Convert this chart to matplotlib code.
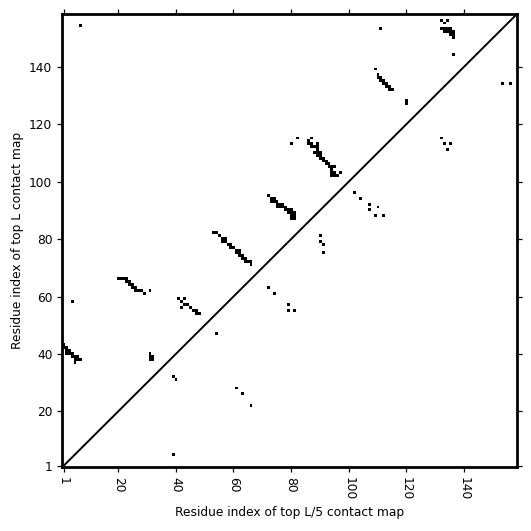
import numpy as np
import matplotlib
matplotlib.use("Agg")
import matplotlib.pyplot as plt

L = 158

# top L contacts (upper triangle): residue i (x), residue j (y)
top_l_x = [1, 1, 2, 2, 3, 2, 3, 4, 4, 5, 6, 5, 6, 7, 5,
           4, 7,
           20, 21, 22, 23, 23, 24, 24, 25, 25, 26, 26, 27, 28, 29,
           31, 31, 31, 32, 31, 32,
           41, 43, 42, 43, 44, 42, 45, 46, 47, 47, 48,
           53, 54, 55, 56, 56, 57, 57, 58, 59, 59, 60, 61, 61, 62, 62, 62,
           63, 63, 64, 64, 65, 66, 66,
           72, 73, 74, 73, 74, 75, 75, 76, 77, 76, 77, 78, 78, 79, 80, 79,
           80, 81, 80, 81, 81, 80, 75,
           80, 82,
           87, 86, 87, 86, 87, 88, 89, 89, 89, 88, 89, 90, 89, 90, 91, 90,
           91, 92, 92, 93, 93, 94, 95, 94, 94, 95, 94, 95, 96, 97,
           109, 110, 110, 111, 111, 112, 112, 113, 113, 114, 114, 115,
           111, 120, 120,
           132, 134, 133, 132, 133, 134, 135, 133, 134, 135, 136, 135, 136, 136,
           136]
top_l_y = [43, 42, 42, 41, 41, 40, 40, 40, 39, 39, 39, 38, 38, 38, 37,
           58, 154,
           66, 66, 66, 66, 65, 65, 64, 64, 63, 63, 62, 62, 62, 61,
           62, 40, 39, 39, 38, 38,
           59, 59, 58, 57, 57, 56, 56, 55, 55, 54, 54,
           82, 82, 81, 80, 79, 80, 79, 78, 78, 77, 77, 76, 75, 76, 75, 74,
           74, 73, 73, 72, 72, 72, 71,
           95, 94, 94, 93, 93, 93, 92, 92, 92, 91, 91, 91, 90, 90, 90, 89,
           89, 89, 88, 88, 87, 87, 91,
           113, 115,
           115, 114, 113, 113, 112, 112, 113, 112, 111, 110, 110, 110, 109, 109, 108, 108,
           107, 107, 106, 106, 105, 105, 105, 104, 103, 103, 102, 102, 102, 103,
           139, 137, 136, 136, 135, 135, 134, 134, 133, 133, 132, 132,
           153, 128, 127,
           156, 156, 155, 153, 153, 153, 153, 152, 152, 152, 152, 151, 151, 150,
           144]

# top L/5 contacts (lower triangle)
top_l5_x = [39, 39, 40, 54, 61, 63, 66, 72, 74, 79, 79, 81, 90, 90, 91, 91,
            102, 104, 107, 107, 110, 109, 112, 132, 133, 135, 134, 153, 156]
top_l5_y = [5, 32, 31, 47, 28, 26, 22, 63, 61, 57, 55, 55, 81, 79, 78, 75,
            96, 94, 92, 90, 91, 88, 88, 115, 113, 113, 111, 134, 134]

tick_labels = [1, 20, 40, 60, 80, 100, 120, 140]

plt.rcParams['font.size'] = 8.85

cmap_mat = np.zeros((L, L))
cmap_mat[np.array(top_l_y) - 1, np.array(top_l_x) - 1] = 1
cmap_mat[np.array(top_l5_y) - 1, np.array(top_l5_x) - 1] = 1

fig = plt.figure(figsize=(5.31, 5.31), dpi=100)
ax = fig.add_axes([0.117, 0.12, 0.857, 0.854])
ax.imshow(cmap_mat, cmap='binary', origin='lower', interpolation='nearest',
          aspect='auto', vmin=0, vmax=1)
ax.plot([-0.5, L - 0.5], [-0.5, L - 0.5], color='black', linewidth=1.4)
ax.set_xlim(-0.5, L - 0.5)
ax.set_ylim(-0.5, L - 0.5)

ticks = [t - 1 for t in tick_labels]
ax.set_xticks(ticks)
ax.set_xticklabels([str(t) for t in tick_labels], rotation=270)
ax.set_yticks(ticks)
ax.set_yticklabels([str(t) for t in tick_labels])
ax.tick_params(top=True, right=True, direction='out', length=3.5, width=0.9)
for s in ax.spines.values():
    s.set_linewidth(2)

ax.set_xlabel('Residue index of top L/5 contact map')
ax.set_ylabel('Residue index of top L contact map')

fig.savefig('out.png', dpi=100)
